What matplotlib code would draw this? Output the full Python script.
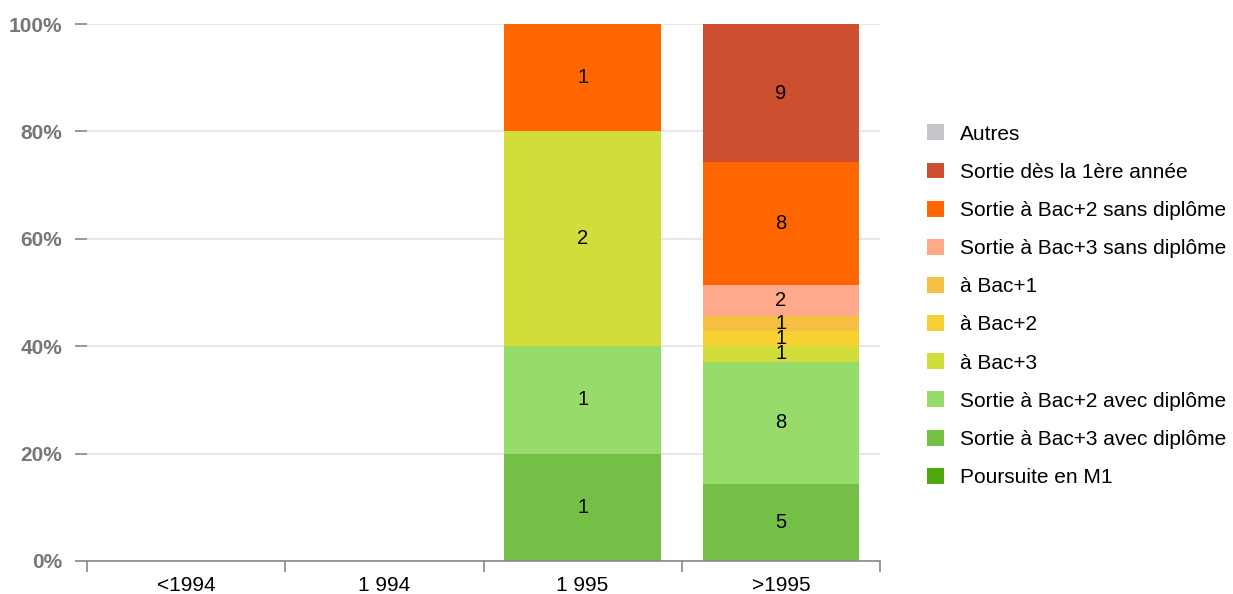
import numpy as np
import matplotlib
matplotlib.use('Agg')
from matplotlib import pyplot as plt
from matplotlib.patches import Patch

plt.rcParams['font.family'] = ['Liberation Sans', 'DejaVu Sans']

# Data (counts per category, stacked bottom-up)
categories = ['<1994', '1 994', '1 995', '>1995']
series_names = ['Poursuite en M1', 'Sortie à Bac+3 avec diplôme', 'Sortie à Bac+2 avec diplôme',
                'à Bac+3', 'à Bac+2', 'à Bac+1', 'Sortie à Bac+3 sans diplôme',
                'Sortie à Bac+2 sans diplôme', 'Sortie dès la 1ère année', 'Autres']
series_values = [
    [0, 0, 0, 0],
    [0, 0, 1, 5],
    [0, 0, 1, 8],
    [0, 0, 2, 1],
    [0, 0, 0, 1],
    [0, 0, 0, 1],
    [0, 0, 0, 2],
    [0, 0, 1, 8],
    [0, 0, 0, 9],
    [0, 0, 0, 0],
]
series_colors = ['#4ea80e', '#74bf45', '#97dc6a', '#d0dd3a', '#f6d131', '#f4bf42',
                 '#ffa98b', '#ff6600', '#cd4f2f', '#c5c5ca']
ytick_labels = ['0%', '20%', '40%', '60%', '80%', '100%']

vals = np.array(series_values, dtype=float)
totals = vals.sum(axis=0)
safe = np.where(totals == 0, 1, totals)
pct = vals / safe * 100

fig = plt.figure(figsize=(12.33, 5.94), dpi=100)
ax = fig.add_axes([87/1233, 1-561/594, (880-87)/1233, (561-24)/594])

x = np.arange(len(categories))
bottom = np.zeros(len(categories))
for name, col, p, v in zip(series_names, series_colors, pct, vals):
    ax.bar(x, p, bottom=bottom, width=0.79, color=col, linewidth=0, zorder=2)
    for i in range(len(categories)):
        if v[i] > 0:
            ax.text(x[i], bottom[i] + p[i] / 2, '%d' % v[i], ha='center', va='center',
                    fontsize=14.5, color='black', zorder=3)
    bottom += p

ax.set_xlim(-0.5, len(categories) - 0.5)
ax.set_ylim(0, 100)
ax.set_yticks([0, 20, 40, 60, 80, 100])
ax.set_yticklabels(ytick_labels, fontsize=15, fontweight='bold', color='#777777')
ax.yaxis.grid(True, color='#e6e6e6', linewidth=1.3, zorder=0)
ax.set_axisbelow(True)
ax.tick_params(axis='y', length=9, color='#888888', width=1.2, pad=9)

ax.set_xticks(x)
ax.set_xticklabels(categories, fontsize=15, color='black')
ax.tick_params(axis='x', length=0, pad=11)
ax.set_xticks(np.arange(-0.5, len(categories)), minor=True)
ax.tick_params(axis='x', which='minor', length=8, color='#888888', width=1.2)

for s in ['top', 'right', 'left']:
    ax.spines[s].set_visible(False)
ax.spines['bottom'].set_color('#888888')
ax.spines['bottom'].set_linewidth(1.2)

handles = [Patch(facecolor=c, edgecolor='none', label=n)
           for n, c in zip(series_names, series_colors)][::-1]
fig.legend(handles=handles, loc='upper left', bbox_to_anchor=(919/1233, 1-116/594),
           frameon=False, fontsize=15, handlelength=0.8, handleheight=0.8,
           handletextpad=0.75, labelspacing=0.91, borderaxespad=0)

fig.savefig('out.png', dpi=100)
